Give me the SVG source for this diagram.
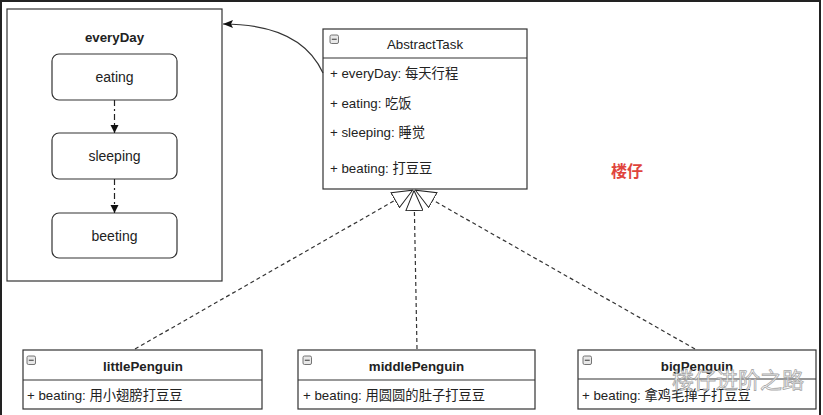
<svg xmlns="http://www.w3.org/2000/svg" width="823" height="415" viewBox="0 0 823 415">
<style>
  .box{fill:#fff;stroke:#333;stroke-width:1.2}
  .rbox{fill:#fff;stroke:#333;stroke-width:1.2}
  .t{font-family:"Liberation Sans","Noto Sans CJK SC",sans-serif;font-size:13.3px;fill:#222}
  .b{font-weight:bold}
  .c{text-anchor:middle}
  .dash{fill:none;stroke:#333;stroke-width:1.2;stroke-dasharray:4 3}
  .icon{fill:#e8e8e8;stroke:#666;stroke-width:0.9}
</style>
<defs>
  <marker id="tri" markerUnits="userSpaceOnUse" viewBox="0 0 21 18" markerWidth="21" markerHeight="18" refX="21" refY="9" orient="auto">
    <path d="M0.5,0.5 L20.5,9 L0.5,17.5 Z" fill="#fff" stroke="#222" stroke-width="1"/>
  </marker>
  <marker id="arr" markerUnits="userSpaceOnUse" viewBox="0 0 10 8" markerWidth="10" markerHeight="8" refX="10" refY="4" orient="auto">
    <path d="M0,0 L10,4 L0,8 L2,4 Z" fill="#111"/>
  </marker>
  <marker id="arr2" markerUnits="userSpaceOnUse" viewBox="0 0 8 10" markerWidth="8" markerHeight="10" refX="8" refY="4" orient="auto">
    <path d="M0,0 L8,4 L0,8 Z" fill="#111"/>
  </marker>
</defs>
<rect width="823" height="415" fill="#fff"/>
<path d="M1,415 V1 H820 V415" fill="none" stroke="#222" stroke-width="2"/>

<g id="everyDay">
  <rect x="7" y="9" width="215" height="272" fill="#fff" stroke="#333" stroke-width="1.2"/>
  <text class="t b c" x="114.5" y="42" font-size="14">everyDay</text>
</g>
<g id="eating">
  <rect class="rbox" x="52" y="54" width="125" height="46" rx="7"/>
  <text class="t c" x="114.5" y="82" style="font-size:14px">eating</text>
</g>
<g id="sleeping">
  <rect class="rbox" x="52" y="133" width="125" height="46" rx="7"/>
  <text class="t c" x="114.5" y="161" style="font-size:14px">sleeping</text>
</g>
<g id="beeting">
  <rect class="rbox" x="52" y="213" width="125" height="45" rx="7"/>
  <text class="t c" x="114.5" y="241" style="font-size:14px">beeting</text>
</g>

<g id="AbstractTask">
  <rect class="box" x="323" y="29" width="204" height="160"/>
  <line x1="323" y1="58" x2="527" y2="58" stroke="#333" stroke-width="1.2"/>
  <rect class="icon" x="330" y="35" width="8.5" height="8.5" rx="1.5"/>
  <line x1="331.8" y1="39.25" x2="336.7" y2="39.25" stroke="#444" stroke-width="1.1"/>
  <text class="t c" x="425" y="48.5">AbstractTask</text>
  <text class="t" x="330" y="78">+ everyDay: 每天行程</text>
  <text class="t" x="330" y="108">+ eating: 吃饭</text>
  <text class="t" x="330" y="137">+ sleeping: 睡觉</text>
  <text class="t" x="330" y="173">+ beating: 打豆豆</text>
</g>

<g id="littlePenguin">
  <rect class="box" x="23" y="350" width="239" height="59"/>
  <line x1="23" y1="380" x2="262" y2="380" stroke="#333" stroke-width="1.2"/>
  <rect class="icon" x="27" y="356" width="8.5" height="8.5" rx="1.5"/>
  <line x1="28.8" y1="360.25" x2="33.7" y2="360.25" stroke="#444" stroke-width="1.1"/>
  <text class="t b c" x="143" y="370.5">littlePenguin</text>
  <text class="t" x="27" y="400">+ beating: 用小翅膀打豆豆</text>
</g>
<g id="middlePenguin">
  <rect class="box" x="298" y="350" width="237" height="59"/>
  <line x1="298" y1="380" x2="535" y2="380" stroke="#333" stroke-width="1.2"/>
  <rect class="icon" x="303" y="356" width="8.5" height="8.5" rx="1.5"/>
  <line x1="304.8" y1="360.25" x2="309.7" y2="360.25" stroke="#444" stroke-width="1.1"/>
  <text class="t b c" x="416.5" y="370.5">middlePenguin</text>
  <text class="t" x="303" y="400">+ beating: 用圆圆的肚子打豆豆</text>
</g>
<g id="bigPenguin">
  <rect class="box" x="578" y="350" width="238" height="59"/>
  <line x1="578" y1="379" x2="816" y2="379" stroke="#333" stroke-width="1.2"/>
  <rect class="icon" x="583" y="356" width="8.5" height="8.5" rx="1.5"/>
  <line x1="584.8" y1="360.25" x2="589.7" y2="360.25" stroke="#444" stroke-width="1.1"/>
  <text class="t b c" x="697" y="370.5">bigPenguin</text>
  <text class="t" x="582" y="400">+ beating: 拿鸡毛掸子打豆豆</text>
</g>

<g id="label">
  <text class="t c b" x="627" y="177" style="font-size:16px;fill:#e0443c">楼仔</text>
</g>

<g id="connectors">
  <path d="M323,73 C308,40 275,24 223,24" fill="none" stroke="#333" stroke-width="1.2" marker-end="url(#arr)"/>
  <path d="M114.5,100 L114.5,133" fill="none" stroke="#222" stroke-width="1.2" stroke-dasharray="6 3 2 3" marker-end="url(#arr2)"/>
  <path d="M114.5,179 L114.5,213" fill="none" stroke="#222" stroke-width="1.2" stroke-dasharray="6 3 2 3" marker-end="url(#arr2)"/>
  <path class="dash" d="M135,349 L413,190" marker-end="url(#tri)"/>
  <path class="dash" d="M695,349 L415,190" marker-end="url(#tri)"/>
  <path class="dash" d="M417,349 L414,190" marker-end="url(#tri)"/>
</g>

<g id="watermark" opacity="0.85">
  <text x="672" y="388" font-family="'Noto Sans CJK SC',sans-serif" font-size="22" fill="#fff" stroke="#999" stroke-width="0.8">楼仔进阶之路</text>
</g>
</svg>
